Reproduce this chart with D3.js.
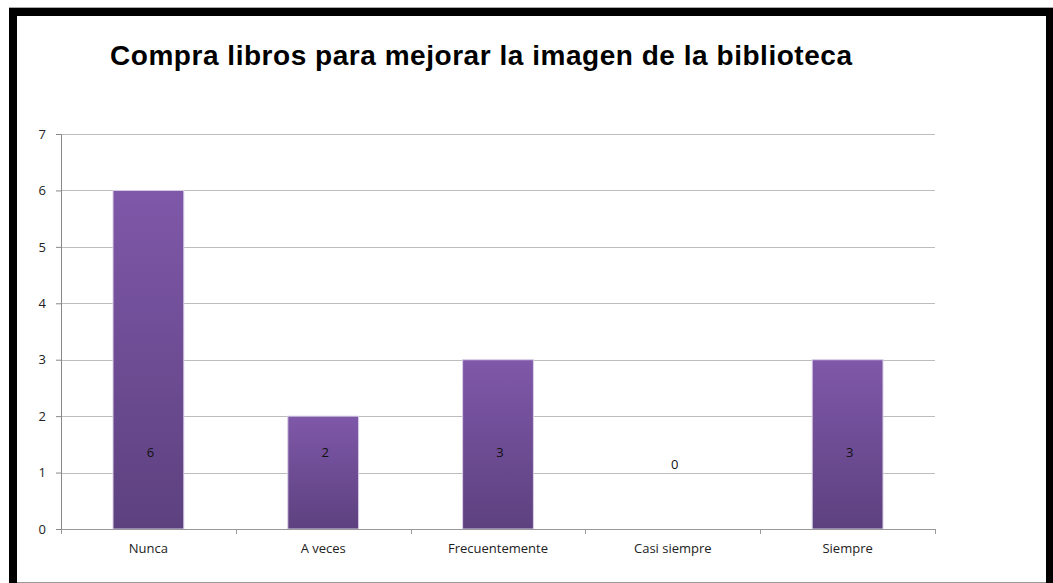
<!DOCTYPE html>
<html>
<head>
<meta charset="utf-8">
<script src="https://cdn.jsdelivr.net/npm/d3@7"></script>
<style>
  body { margin: 0; background: #fff; }
  .axis text { font-family: "Open Sans", sans-serif; font-size: 13px; fill: #222; }
  .title { font-family: "Liberation Sans", Arial, sans-serif; font-weight: bold; font-size: 28px; fill: #000; }
  .lbl { font-family: "Open Sans", sans-serif; font-size: 13px; fill: #111; }
</style>
</head>
<body>
<div id="chart"></div>
<script>
const categories = ['Nunca', 'A veces', 'Frecuentemente', 'Casi siempre', 'Siempre'];
const values = [6, 2, 3, 0, 3];
const yTicks = [0, 1, 2, 3, 4, 5, 6, 7];
const titleText = 'Compra libros para mejorar la imagen de la biblioteca';

const W = 1053, H = 583;
const pad = {l: 61, r: 118, t: 134, b: 54};

const svg = d3.select('#chart').append('svg')
  .attr('width', W).attr('height', H);

const defs = svg.append('defs');
const grad = defs.append('linearGradient')
  .attr('id', 'barGrad')
  .attr('x1', 0).attr('y1', 0).attr('x2', 0).attr('y2', 1);
grad.append('stop').attr('offset', '0%').attr('stop-color', '#7f58a9');
grad.append('stop').attr('offset', '100%').attr('stop-color', '#5d417f');

// frame
svg.append('rect').attr('x', 0).attr('y', 0).attr('width', W).attr('height', H).attr('fill', '#fff');
svg.append('line').attr('x1', 9).attr('x2', W).attr('y1', 7.5).attr('y2', 7.5).attr('stroke', '#aaa');
svg.append('rect').attr('x', 9).attr('y', 8).attr('width', W - 9).attr('height', 8).attr('fill', '#000');
svg.append('rect').attr('x', 9).attr('y', 8).attr('width', 8).attr('height', H - 8).attr('fill', '#000');
svg.append('rect').attr('x', 1046).attr('y', 8).attr('width', 7).attr('height', H - 8).attr('fill', '#000');
svg.append('line').attr('x1', 17).attr('x2', 1046).attr('y1', 582.5).attr('y2', 582.5).attr('stroke', '#999');

svg.append('text')
  .attr('class', 'title')
  .attr('x', 481).attr('y', 65)
  .attr('text-anchor', 'middle')
  .attr('textLength', 742)
  .text(titleText);

const iw = W - pad.l - pad.r, ih = H - pad.t - pad.b;
const chart = svg.append('g').attr('transform', `translate(${pad.l}, ${pad.t})`);

const x = d3.scaleBand().domain(categories).range([0, iw]).paddingInner(0).paddingOuter(0);
const y = d3.scaleLinear().domain([0, 7]).range([ih, 0]);

// gridlines
chart.append('g')
  .selectAll('line')
  .data(yTicks)
  .join('line')
  .attr('x1', 0).attr('x2', iw)
  .attr('y1', d => Math.round(y(d)) + 0.5).attr('y2', d => Math.round(y(d)) + 0.5)
  .attr('stroke', '#bdbdbd');

// bars
const bw = x.bandwidth() * 0.405;
chart.selectAll('.bar')
  .data(values.map((v, i) => ({cat: categories[i], v})))
  .join('rect')
  .attr('class', 'bar')
  .attr('x', d => x(d.cat) + (x.bandwidth() - bw) / 2)
  .attr('width', bw)
  .attr('y', d => y(d.v))
  .attr('height', d => ih - y(d.v))
  .attr('fill', 'url(#barGrad)')
  .attr('stroke', '#d9cfe6')
  .attr('stroke-width', 1)
  .attr('visibility', d => d.v > 0 ? 'visible' : 'hidden');

// value labels
chart.selectAll('.lbl')
  .data(values.map((v, i) => ({cat: categories[i], v})))
  .join('text')
  .attr('class', 'lbl')
  .attr('x', d => x(d.cat) + x.bandwidth() / 2 + 2)
  .attr('y', d => y(0) - (d.v > 0 ? 72 : 60))
  .attr('text-anchor', 'middle')
  .text(d => d.v);

// y axis
const yAxis = chart.append('g').attr('class', 'axis')
  .call(d3.axisLeft(y).tickValues(yTicks).tickFormat(d3.format('d')).tickSize(5).tickPadding(10));
yAxis.select('.domain').attr('stroke', '#888');
yAxis.selectAll('.tick line').attr('stroke', '#888');

// x axis
const xAxis = chart.append('g').attr('class', 'axis')
  .attr('transform', `translate(0, ${ih})`)
  .call(d3.axisBottom(x).tickSize(0).tickPadding(15));
xAxis.select('.domain').attr('stroke', '#999').attr('d', `M0.5,0.5H${iw + 0.5}`);
xAxis.selectAll('.sep')
  .data(d3.range(categories.length + 1))
  .join('line')
  .attr('class', 'sep')
  .attr('x1', i => Math.round(i * x.bandwidth()) + 0.5)
  .attr('x2', i => Math.round(i * x.bandwidth()) + 0.5)
  .attr('y1', 0).attr('y2', 5)
  .attr('stroke', '#999');
</script>
</body>
</html>
